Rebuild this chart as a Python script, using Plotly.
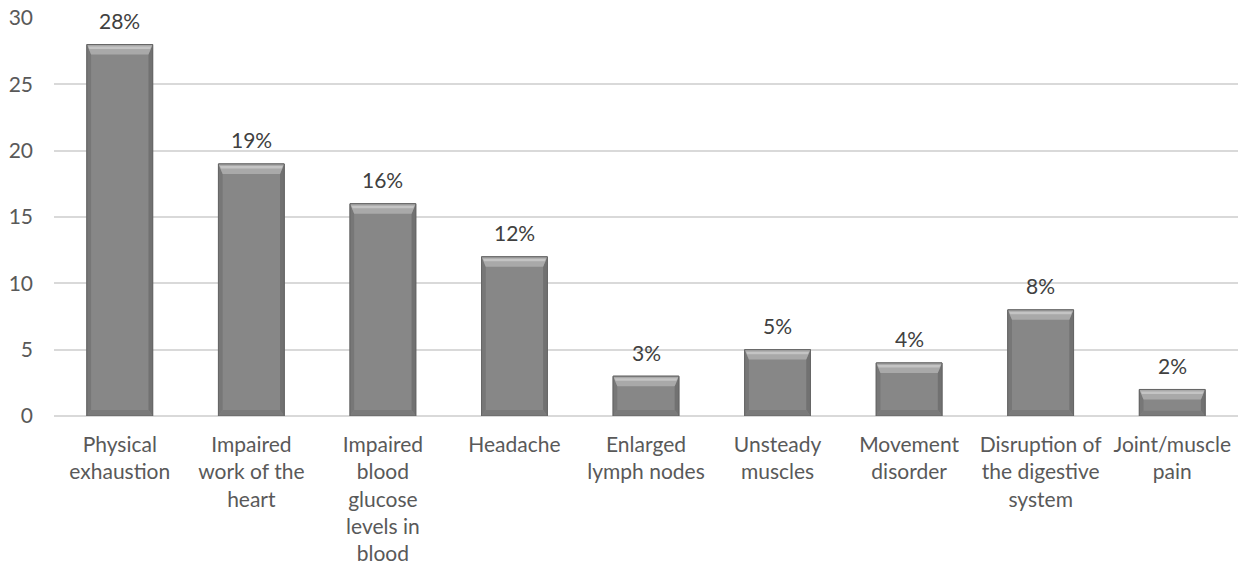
import plotly.graph_objects as go

categories = [
    "Physical<br>exhaustion",
    "Impaired<br>work of the<br>heart",
    "Impaired<br>blood<br>glucose<br>levels in<br>blood",
    "Headache",
    "Enlarged<br>lymph nodes",
    "Unsteady<br>muscles",
    "Movement<br>disorder",
    "Disruption of<br>the digestive<br>system",
    "Joint/muscle<br>pain",
]
values = [28, 19, 16, 12, 3, 5, 4, 8, 2]
labels = [f"{v}%" for v in values]

FONT = "Lato, 'Open Sans', sans-serif"
BAR_W = 0.5
TOP_BEVEL = 0.75   # depth of the lit top face (data units)
BOT_BEVEL = 0.45   # depth of the shaded bottom face
SIDE = 0.032       # width of the side faces (category units)

x_idx = list(range(len(values)))

fig = go.Figure()
fig.add_trace(go.Bar(
    x=x_idx, y=values, width=BAR_W,
    marker=dict(color="#878787", line=dict(color="#666666", width=1)),
    showlegend=False, hoverinfo="skip",
))

shapes = []
for i, v in enumerate(values):
    x0, x1 = i - BAR_W / 2, i + BAR_W / 2
    t = min(TOP_BEVEL, v * 0.4)
    b = min(BOT_BEVEL, v * 0.2)
    # left and right side faces
    shapes.append(dict(
        type="path", xref="x", yref="y", layer="above",
        path=f"M {x0},{v} L {x0 + SIDE},{v - t} L {x0 + SIDE},{b} L {x0},0 Z",
        fillcolor="#777777", line=dict(width=0),
    ))
    shapes.append(dict(
        type="path", xref="x", yref="y", layer="above",
        path=f"M {x1},{v} L {x1 - SIDE},{v - t} L {x1 - SIDE},{b} L {x1},0 Z",
        fillcolor="#717171", line=dict(width=0),
    ))
    # bottom face
    shapes.append(dict(
        type="path", xref="x", yref="y", layer="above",
        path=f"M {x0},0 L {x1},0 L {x1 - SIDE},{b} L {x0 + SIDE},{b} Z",
        fillcolor="#7a7a7a", line=dict(width=0),
    ))
    # lit top face with a brighter band
    shapes.append(dict(
        type="path", xref="x", yref="y", layer="above",
        path=f"M {x0},{v} L {x1},{v} L {x1 - SIDE},{v - t} L {x0 + SIDE},{v - t} Z",
        fillcolor="#a9a9a9", line=dict(width=0),
    ))
    shapes.append(dict(
        type="path", xref="x", yref="y", layer="above",
        path=(f"M {x0 + SIDE * 0.35},{v - t * 0.2} L {x1 - SIDE * 0.35},{v - t * 0.2} "
              f"L {x1 - SIDE * 0.6},{v - t * 0.45} L {x0 + SIDE * 0.6},{v - t * 0.45} Z"),
        fillcolor="#c4c4c4", line=dict(width=0),
    ))
    # outline
    shapes.append(dict(
        type="rect", xref="x", yref="y", layer="above",
        x0=x0, x1=x1, y0=0, y1=v,
        line=dict(color="#666666", width=1),
    ))

annotations = [
    dict(x=i, y=v, text=lab, showarrow=False, xref="x", yref="y",
         yanchor="middle", yshift=24,
         font=dict(family=FONT, size=21, color="#404040"))
    for i, (v, lab) in enumerate(zip(values, labels))
]

fig.update_layout(
    width=1250, height=577,
    margin=dict(l=54, r=12, t=18, b=161),
    paper_bgcolor="white", plot_bgcolor="white",
    font=dict(family=FONT, size=21, color="#595959"),
    shapes=shapes, annotations=annotations,
)
fig.update_xaxes(
    tickmode="array", tickvals=x_idx, ticktext=categories,
    range=[-0.5, len(values) - 0.5], showgrid=False, zeroline=False,
    showline=False, ticks="", tickfont=dict(family=FONT, size=21, color="#595959"),
    ticklabelstandoff=14, automargin=False,
)
fig.update_yaxes(
    range=[0, 30], dtick=5, showgrid=True, gridcolor="#d9d9d9", gridwidth=1.5,
    zeroline=True, zerolinecolor="#d9d9d9", zerolinewidth=1.5,
    showline=False, ticks="", tickfont=dict(family=FONT, size=21, color="#595959"),
    ticklabelstandoff=20, automargin=False,
)

fig.write_html("out.html")
